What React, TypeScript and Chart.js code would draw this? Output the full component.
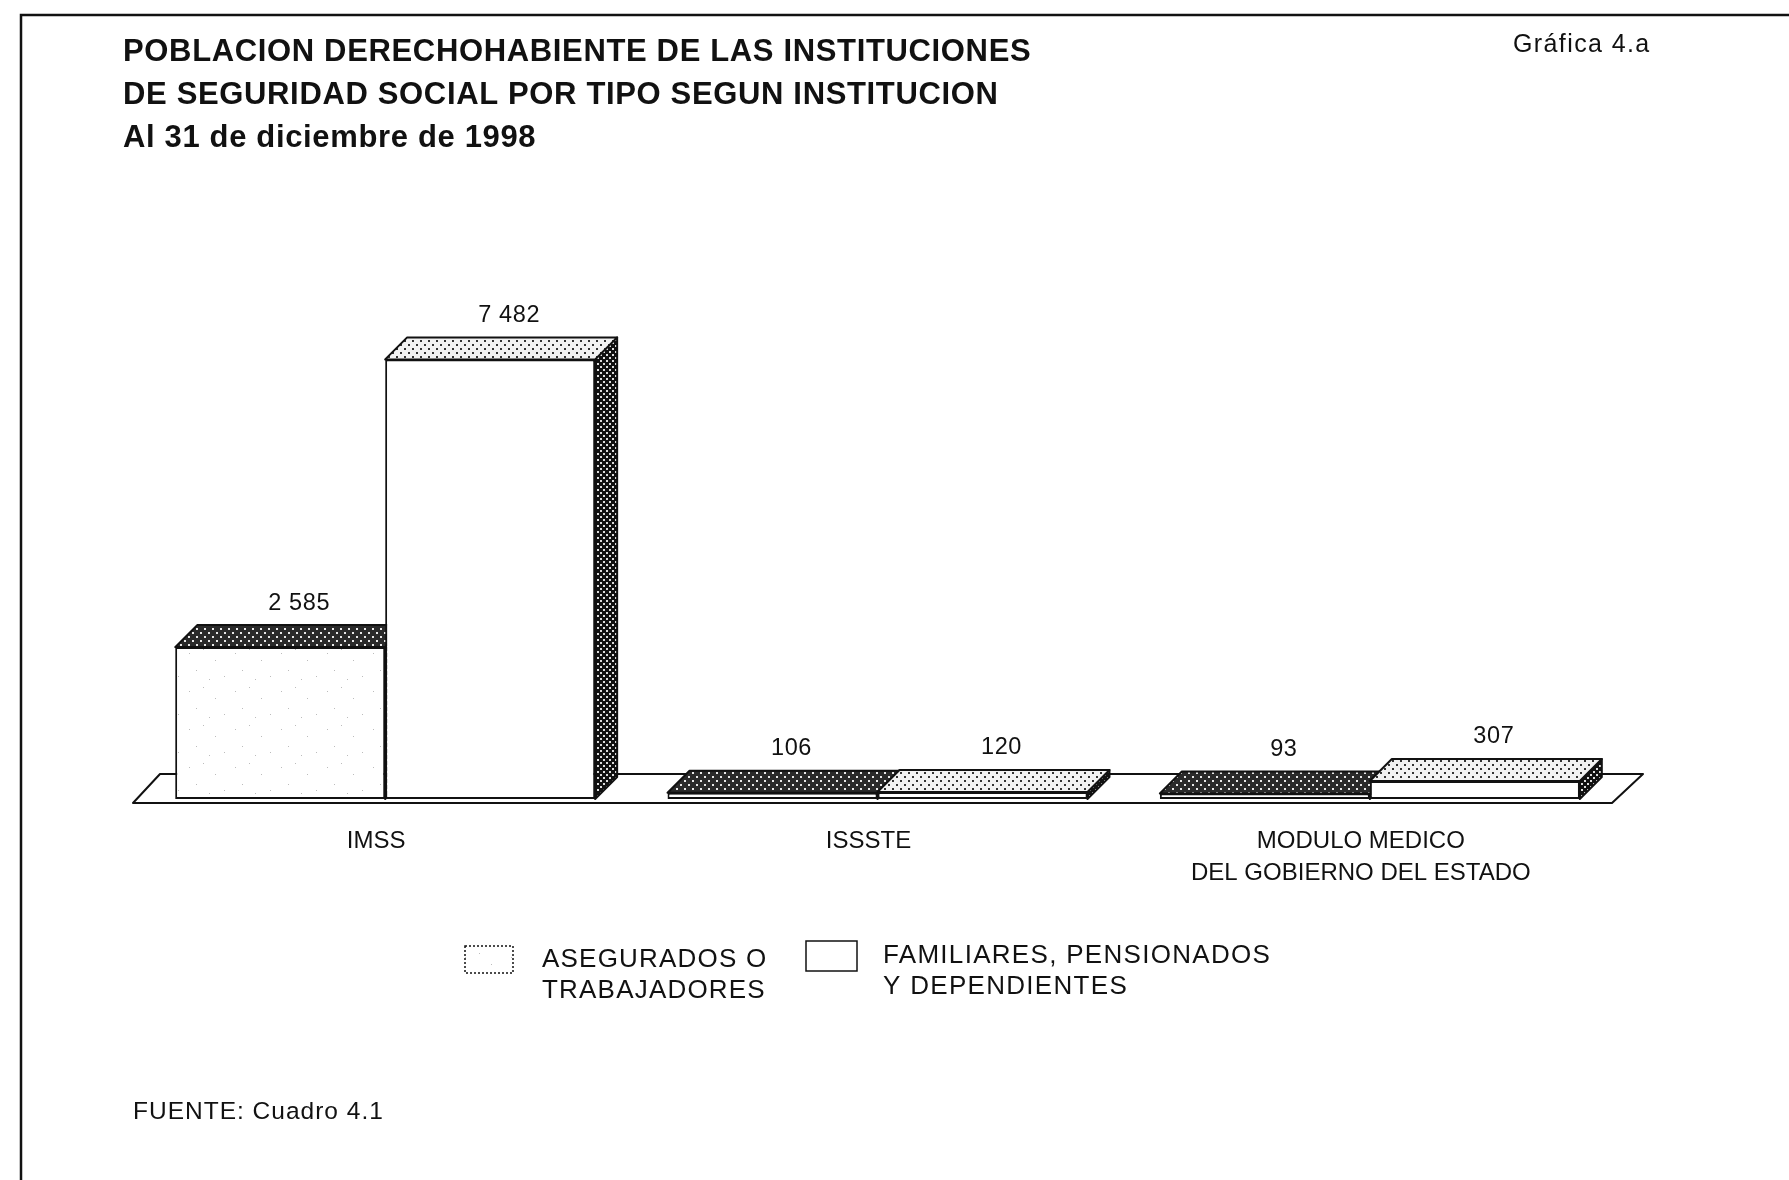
import React, { useEffect, useRef } from "react";
import { Chart, registerables } from "chart.js";

Chart.register(...registerables);

const categories: (string | string[])[] = ["IMSS", "ISSSTE", ["MODULO MEDICO", "DEL GOBIERNO DEL ESTADO"]];
const asegurados = [2585, 106, 93];
const familiares = [7482, 120, 307];
const valueLabelsA = ["2 585", "106", "93"];
const valueLabelsB = ["7 482", "120", "307"];
const titleLines = [
  "POBLACION DERECHOHABIENTE DE LAS INSTITUCIONES",
  "DE SEGURIDAD SOCIAL POR TIPO SEGUN INSTITUCION",
  "Al 31 de diciembre de 1998",
];
const seriesNames = ["ASEGURADOS O TRABAJADORES", "FAMILIARES, PENSIONADOS Y DEPENDIENTES"];
const legendLinesA = ["ASEGURADOS O", "TRABAJADORES"];
const legendLinesB = ["FAMILIARES, PENSIONADOS", "Y DEPENDIENTES"];
const badge = "Gráfica 4.a";
const source = "FUENTE: Cuadro 4.1";

const FONT = '"Liberation Sans", Arial, sans-serif';
const INK = "#111";
const DEPTH = 22;

function makePattern(bg: string, dot: string, step: number, size: number) {
  const c = document.createElement("canvas");
  c.width = step * 2;
  c.height = step * 2;
  const g = c.getContext("2d")!;
  g.fillStyle = bg;
  g.fillRect(0, 0, c.width, c.height);
  g.fillStyle = dot;
  g.fillRect(0, 0, size, size);
  g.fillRect(step, step, size, size);
  return g.createPattern(c, "repeat")!;
}

function makeSpeckle() {
  const c = document.createElement("canvas");
  c.width = 46;
  c.height = 38;
  const g = c.getContext("2d")!;
  g.fillStyle = "#fff";
  g.fillRect(0, 0, 46, 38);
  g.fillStyle = "#bcbcbc";
  [[5, 7], [19, 3], [31, 14], [12, 24], [40, 30], [25, 33]].forEach(([x, y]) => g.fillRect(x, y, 1, 1));
  return g.createPattern(c, "repeat")!;
}

function text(ctx: CanvasRenderingContext2D, s: string, x: number, y: number, font: string, spacing = 0, align: CanvasTextAlign = "left") {
  ctx.font = font;
  (ctx as any).letterSpacing = spacing + "px";
  ctx.textAlign = align;
  ctx.textBaseline = "middle";
  ctx.fillStyle = INK;
  ctx.fillText(s, x, y);
  (ctx as any).letterSpacing = "0px";
}

function poly(ctx: CanvasRenderingContext2D, pts: number[][], fill: CanvasPattern | string) {
  ctx.beginPath();
  pts.forEach(([x, y], i) => (i ? ctx.lineTo(x, y) : ctx.moveTo(x, y)));
  ctx.closePath();
  ctx.fillStyle = fill;
  ctx.fill();
  ctx.strokeStyle = INK;
  ctx.lineWidth = 2;
  ctx.lineJoin = "round";
  ctx.stroke();
}

export default function App() {
  const ref = useRef<HTMLCanvasElement>(null);

  useEffect(() => {
    document.body.style.margin = "0";
    const canvas = ref.current!;
    const darkTop = makePattern("#2a2a2a", "#e8e8e8", 4, 2);
    const lightTop = makePattern("#f2f2f2", "#333", 4, 2);
    const darkSide = makePattern("#111", "#ddd", 3, 2);
    const speckle = makeSpeckle();

    const page = {
      id: "page",
      beforeDraw(chart: Chart) {
        const ctx = chart.ctx;
        ctx.save();
        ctx.fillStyle = "#fff";
        ctx.fillRect(0, 0, chart.width, chart.height);
        ctx.strokeStyle = INK;
        ctx.lineWidth = 2.5;
        ctx.beginPath();
        ctx.moveTo(21, 1180);
        ctx.lineTo(21, 15);
        ctx.lineTo(1789, 15);
        ctx.stroke();

        titleLines.forEach((l, i) => text(ctx, l, 123, 52 + i * 43, `bold 31px ${FONT}`, 0.65));
        text(ctx, badge, 1513, 45, `25px ${FONT}`, 1.4);
        text(ctx, source, 133, 1112, `24.5px ${FONT}`, 1);

        const font = `26px ${FONT}`;
        ctx.lineWidth = 1.5;
        ctx.fillStyle = speckle;
        ctx.fillRect(465, 946, 48, 27);
        ctx.setLineDash([2, 2]);
        ctx.strokeRect(465, 946, 48, 27);
        ctx.setLineDash([]);
        legendLinesA.forEach((l, i) => text(ctx, l, 542, 960 + i * 31, font, 1.2));
        ctx.fillStyle = "#fff";
        ctx.strokeRect(806, 941, 51, 30);
        legendLinesB.forEach((l, i) => text(ctx, l, 883, 956 + i * 31, font, 1.3));
        ctx.restore();
      },
      beforeDatasetsDraw(chart: Chart) {
        const ctx = chart.ctx;
        const base = chart.scales.y.getPixelForValue(0);
        ctx.save();
        const a = chart.chartArea;
        const frontY = base + 4;
        const backY = base - 25;
        poly(ctx, [[a.left - 6, frontY], [a.left + 21, backY], [a.right + 27, backY], [a.right - 4, frontY]], "#fff");
        chart.data.datasets.forEach((_, di) => {
          const meta = chart.getDatasetMeta(di);
          meta.data.forEach((el: any) => {
            const { x, y, width } = el.getProps(["x", "y", "width"], true);
            const l = x - width / 2;
            const r = x + width / 2;
            poly(ctx, [[r, y], [r + DEPTH, y - DEPTH], [r + DEPTH, base - DEPTH], [r, base]], darkSide);
            poly(ctx, [[l, y], [l + DEPTH, y - DEPTH], [r + DEPTH, y - DEPTH], [r, y]], di === 0 ? darkTop : lightTop);
          });
        });
        ctx.restore();
      },
      afterDatasetsDraw(chart: Chart) {
        const ctx = chart.ctx;
        ctx.save();
        [valueLabelsA, valueLabelsB].forEach((labels, di) => {
          chart.getDatasetMeta(di).data.forEach((el: any, i: number) => {
            const { x, y } = el.getProps(["x", "y"], true);
            text(ctx, labels[i], x + 19, y - DEPTH - 22, `23.5px ${FONT}`, 0.6, "center");
          });
        });
        ctx.restore();
      },
    };

    const chart = new Chart(canvas, {
      type: "bar",
      data: {
        labels: categories as any,
        datasets: [
          { label: seriesNames[0], data: asegurados, backgroundColor: speckle as any, borderColor: INK, borderWidth: 2, borderSkipped: false },
          { label: seriesNames[1], data: familiares, backgroundColor: "#fff", borderColor: INK, borderWidth: 2, borderSkipped: false },
        ],
      },
      options: {
        animation: false,
        responsive: false,
        layout: { padding: { left: 139, right: 173, top: 101, bottom: 261 } },
        categoryPercentage: 0.853,
        barPercentage: 1,
        plugins: { legend: { display: false }, title: { display: false }, tooltip: { enabled: false } },
        scales: {
          x: {
            grid: { display: false },
            border: { display: false },
            afterFit: (s: any) => {
              s.height = 120;
            },
            ticks: {
              maxRotation: 0,
              autoSkip: false,
              padding: 18,
              labelOffset: -9,
              color: INK,
              font: { family: "Liberation Sans", size: 24, lineHeight: 1.33 },
            },
          },
          y: { display: false, min: 0, max: 11880 },
        },
      } as any,
      plugins: [page],
    });
    return () => chart.destroy();
  }, []);

  return <canvas ref={ref} width={1789} height={1180} style={{ display: "block" }} />;
}
